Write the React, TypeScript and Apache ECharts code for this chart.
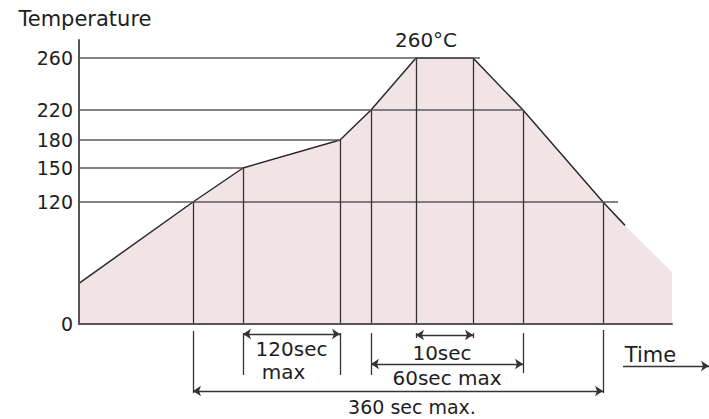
import React, { useEffect, useRef } from "react";
import * as echarts from "echarts";

const FONT = "DejaVu Sans";
const INK = "#1e1e1e";

// Schematic temperature axis: each labelled temperature has its own stop
const yTickValues = [0, 120, 150, 180, 220, 260];
const yTickStops = [0, 122, 156, 184, 214, 266];
const yAxisTop = 284;

// Schematic time axis
const xAxisEnd = 593;
const annotXEnd = 630;
const annotDepth = 95;

// Reflow profile (time units, °C)
const curveX = [0, 114, 164, 261, 292, 337, 394, 444, 524, 546, 593];
const curveT = [40, 120, 150, 180, 220, 260, 260, 220, 120, 97, 51];
const strokePoints = 10; // outline stops here, fill runs on

// Horizontal level lines
const levelT = [260, 220, 180, 150, 120];
const levelEndX = [401, 444, 261, 164, 539];

// Vertical drop lines: indices into the profile
const dropIdx = [1, 2, 3, 4, 5, 6, 7, 8];

// Dimension spans (indices into the profile)
const spanFrom = [2, 5, 4, 1];
const spanTo = [3, 6, 7, 8];

// Dimension labels
const noteText = ["120sec", "max", "10sec", "60sec max", "360 sec max.", "Time"];

// Layout of annotation marks (depth below the axis, offsets)
const L = {
  extFrom: [7, 9, 9, 9, 9, 9, 9, 6],
  extTo: [69, 51, 51, 51, 14, 14, 49, 69],
  arrowDepth: [10, 11, 40, 67],
  noteX: [212.5, 204.5, 363, 368, 333, 571.5],
  noteDepth: [25, 48, 28.5, 54, 83, 31],
  noteSize: [20, 20, 20, 20, 19, 21],
  timeFrom: 544,
  timeDepth: 42,
};

function ySc(t: number): number {
  for (let i = 1; i < yTickValues.length; i++) {
    if (t <= yTickValues[i]) {
      const f = (t - yTickValues[i - 1]) / (yTickValues[i] - yTickValues[i - 1]);
      return yTickStops[i - 1] + f * (yTickStops[i] - yTickStops[i - 1]);
    }
  }
  return yTickStops[yTickStops.length - 1];
}

export default function App() {
  const ref = useRef<HTMLDivElement>(null);

  useEffect(() => {
    if (!ref.current) return;
    const chart = echarts.init(ref.current, null, { renderer: "svg" });
    const ts = { fontFamily: FONT, color: INK };
    const pt = (i: number) => [curveX[i], ySc(curveT[i])];

    const levelLines = levelT.map((t, i) => [
      { coord: [0, ySc(t)] },
      { coord: [levelEndX[i], ySc(t)] },
    ]);
    const dropLines = dropIdx.map((i) => [{ coord: [curveX[i], 0] }, { coord: pt(i) }]);
    const extLines = dropIdx.map((ci, k) => [
      { coord: [curveX[ci], L.extFrom[k]], symbol: "none" },
      { coord: [curveX[ci], L.extTo[k]], symbol: "none" },
    ]);
    const arrows = spanFrom.map((a, k) => [
      { coord: [curveX[a], L.arrowDepth[k]], symbol: "arrow" },
      { coord: [curveX[spanTo[k]], L.arrowDepth[k]], symbol: "arrow" },
    ]);
    const timeLine = [
      { coord: [L.timeFrom, L.timeDepth], symbol: "none" },
      { coord: [annotXEnd, L.timeDepth], symbol: "arrow" },
    ];

    const option: any = {
      animation: false,
      backgroundColor: "#ffffff",
      grid: [
        { left: 79, top: 40, width: xAxisEnd, height: yAxisTop, outerBoundsMode: "none" },
        { left: 79, top: 40 + yAxisTop, width: annotXEnd, height: annotDepth, outerBoundsMode: "none" },
      ],
      xAxis: [
        {
          type: "value",
          gridIndex: 0,
          min: 0,
          max: xAxisEnd,
          z: 10,
          axisLine: { show: true, onZero: false, lineStyle: { color: "#555555", width: 2 } },
          axisTick: { show: false },
          axisLabel: { show: false },
          splitLine: { show: false },
        },
        { type: "value", gridIndex: 1, min: 0, max: annotXEnd, show: false },
      ],
      yAxis: [
        {
          type: "value",
          gridIndex: 0,
          min: 0,
          max: yAxisTop,
          z: 10,
          name: "Temperature",
          nameLocation: "end",
          nameGap: 11,
          nameTextStyle: { ...ts, fontSize: 21, align: "center", padding: [0, 0, 0, 12] },
          axisLine: { show: true, lineStyle: { color: "#555555", width: 2 } },
          axisTick: { show: false },
          splitLine: { show: false },
          axisLabel: {
            ...ts,
            fontSize: 19,
            margin: 6,
            customValues: yTickStops,
            formatter: (v: number) => {
              const k = yTickStops.findIndex((s) => Math.abs(s - v) < 0.5);
              return k >= 0 ? String(yTickValues[k]) : "";
            },
          },
        },
        { type: "value", gridIndex: 1, min: 0, max: annotDepth, inverse: true, show: false },
      ],
      series: [
        {
          type: "line",
          xAxisIndex: 0,
          yAxisIndex: 0,
          data: curveX.map((_, i) => pt(i)),
          showSymbol: false,
          silent: true,
          z: 2,
          lineStyle: { width: 0, opacity: 0 },
          areaStyle: { color: "#f2e4e6", opacity: 1 },
          markLine: {
            silent: true,
            symbol: ["none", "none"],
            label: { show: false },
            lineStyle: { color: "#5a5a5a", width: 1.5, type: "solid" },
            data: levelLines,
          },
        },
        {
          type: "line",
          xAxisIndex: 0,
          yAxisIndex: 0,
          data: curveX.slice(0, strokePoints).map((_, i) => pt(i)),
          showSymbol: false,
          silent: true,
          z: 4,
          lineStyle: { color: "#2a2a2a", width: 1.5 },
          markLine: {
            silent: true,
            symbol: ["none", "none"],
            label: { show: false },
            lineStyle: { color: "#333333", width: 1.3, type: "solid" },
            data: dropLines,
          },
          markPoint: {
            silent: true,
            symbol: "circle",
            symbolSize: 0,
            label: {
              show: true,
              position: "inside",
              offset: [10, -18],
              ...ts,
              fontSize: 20,
              formatter: `${curveT[5]}°C`,
            },
            data: [{ coord: pt(5) }],
          },
        },
        {
          type: "scatter",
          xAxisIndex: 1,
          yAxisIndex: 1,
          symbolSize: 0,
          silent: true,
          itemStyle: { color: INK, opacity: 1 },
          label: { show: true, position: "inside", ...ts, opacity: 1 },
          data: noteText.map((t, k) => ({
            value: [L.noteX[k], L.noteDepth[k]],
            label: {
              formatter: t,
              fontSize: L.noteSize[k],
              lineHeight: L.noteSize[k] - 3,
              color: INK,
              fontFamily: FONT,
            },
          })),
          markLine: {
            silent: true,
            symbol: ["none", "none"],
            symbolSize: 8,
            label: { show: false },
            lineStyle: { color: "#333333", width: 1.3, type: "solid" },
            data: [...extLines, ...arrows, timeLine],
          },
        },
      ],
    };

    chart.setOption(option);
    return () => chart.dispose();
  }, []);

  return (
    <div
      ref={ref}
      style={{ position: "fixed", left: 0, top: 0, width: 709, height: 419, background: "#fff" }}
    />
  );
}
